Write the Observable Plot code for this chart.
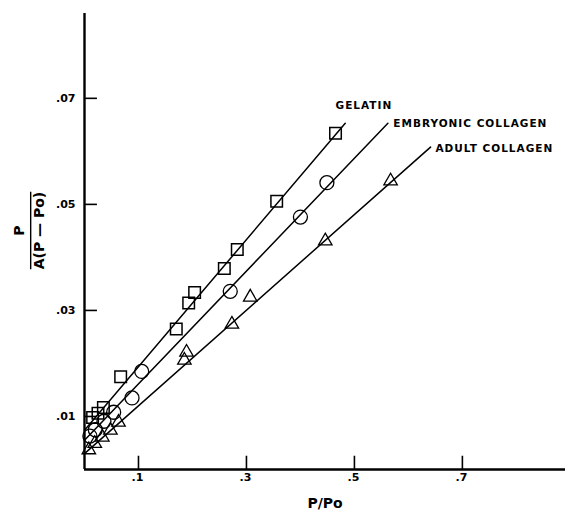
<!DOCTYPE html>
<html><head><meta charset="utf-8">
<script src="https://cdn.jsdelivr.net/npm/d3@7"></script>
<script src="https://cdn.jsdelivr.net/npm/@observablehq/plot@0.6"></script>
<style>body{margin:0;background:#fff}</style>
</head><body><div id="chart"></div>
<script>
// P/Po (x) and P/[A(P-Po)] (y)
const gelatinX = [0.015, 0.025, 0.035, 0.067, 0.170, 0.193, 0.204, 0.259, 0.283, 0.356, 0.465];
const gelatinY = [0.0098, 0.0106, 0.0117, 0.0175, 0.0265, 0.0314, 0.0334, 0.0379, 0.0415, 0.0506, 0.0634];
const embryonicX = [0.010, 0.020, 0.036, 0.054, 0.088, 0.106, 0.270, 0.400, 0.449];
const embryonicY = [0.0063, 0.0075, 0.0091, 0.0108, 0.0135, 0.0185, 0.0336, 0.0476, 0.0541];
const adultX = [0.008, 0.019, 0.033, 0.048, 0.063, 0.185, 0.189, 0.273, 0.307, 0.446, 0.567];
const adultY = [0.0037, 0.0049, 0.0061, 0.0074, 0.0089, 0.0206, 0.0221, 0.0274, 0.0325, 0.0431, 0.0544];
// fitted straight lines: endpoints
const gelatinFitX = [0, 0.483], gelatinFitY = [0.0074, 0.0653];
const embryonicFitX = [0, 0.562], embryonicFitY = [0.0055, 0.0653];
const adultFitX = [0, 0.641], adultFitY = [0.0030, 0.0608];
// series labels
const seriesNames = ["GELATIN", "EMBRYONIC COLLAGEN", "ADULT COLLAGEN"];
const labelX = [0.465, 0.572, 0.650];
const labelY = [0.0686, 0.0652, 0.0606];
// ticks
const xTicks = [0.1, 0.3, 0.5, 0.7];
const xTickLabels = [".1", ".3", ".5", ".7"];
const yTicks = [0.01, 0.03, 0.05, 0.07];
const yTickLabels = [".01", ".03", ".05", ".07"];

const pts = (xs, ys) => xs.map((x, i) => ({x, y: ys[i]}));
const gel = pts(gelatinX, gelatinY), emb = pts(embryonicX, embryonicY), adu = pts(adultX, adultY);
const labels = seriesNames.map((t, i) => ({t, x: labelX[i], y: labelY[i]}));

const chart = Plot.plot({
  width: 565, height: 514,
  marginLeft: 84, marginRight: 0, marginTop: 13, marginBottom: 45,
  x: {domain: [0, 0.891]},
  y: {domain: [0, 0.086]},
  style: {fontFamily: "DejaVu Sans", fontWeight: "bold", fontSize: "11px", color: "black", background: "white"},
  marks: [
    Plot.axisX({ticks: xTicks, tickSize: 0, tickPadding: 4, tickFormat: d => xTickLabels[xTicks.indexOf(d)], label: null, fontSize: 11, dx: -1}),
    Plot.axisY({ticks: yTicks, tickSize: 0, tickPadding: 9, tickFormat: d => yTickLabels[yTicks.indexOf(d)], label: null, fontSize: 11}),
    Plot.ruleX(xTicks, {y1: 0, y2: 0.0025, stroke: "black", strokeWidth: 1.6}),
    Plot.ruleY(yTicks, {x1: 0, x2: 0.024, stroke: "black", strokeWidth: 1.6}),
    Plot.ruleX([0], {stroke: "black", strokeWidth: 2.4}),
    Plot.ruleY([0], {stroke: "black", strokeWidth: 2.4}),
    Plot.line(pts(gelatinFitX, gelatinFitY), {x: "x", y: "y", stroke: "black", strokeWidth: 1.5}),
    Plot.line(pts(embryonicFitX, embryonicFitY), {x: "x", y: "y", stroke: "black", strokeWidth: 1.5}),
    Plot.line(pts(adultFitX, adultFitY), {x: "x", y: "y", stroke: "black", strokeWidth: 1.5}),
    Plot.dot(gel, {x: "x", y: "y", symbol: "square", r: 6.5, stroke: "black", strokeWidth: 1.5, fill: "none"}),
    Plot.dot(emb, {x: "x", y: "y", symbol: "circle", r: 7, stroke: "black", strokeWidth: 1.3, fill: "none"}),
    Plot.dot(adu, {x: "x", y: "y", symbol: "triangle", r: 5, stroke: "black", strokeWidth: 1.3, fill: "none"}),
    Plot.text(labels, {x: "x", y: "y", text: "t", textAnchor: "start", fontSize: 10.5, fill: "black", fontWeight: "bold"}),
    Plot.text(["P/Po"], {frameAnchor: "bottom", dy: 34, lineAnchor: "middle", textAnchor: "middle", fontSize: 14, fontWeight: "bold", fill: "black"}),
    Plot.text(["P"], {frameAnchor: "left", dx: -65, dy: -11, rotate: -90, textAnchor: "middle", lineAnchor: "middle", fontSize: 14, fontWeight: "bold", fill: "black"}),
    Plot.text(["A(P — Po)"], {frameAnchor: "left", dx: -45, dy: -11, rotate: -90, textAnchor: "middle", lineAnchor: "middle", fontSize: 14, fontWeight: "bold", fill: "black"})
  ]
});
d3.select(chart).selectAll("text").filter(function() { return this.textContent === "A(P — Po)"; })
  .style("text-decoration", "overline");
d3.select(chart).selectAll("text").filter(function() { return seriesNames.includes(this.textContent); })
  .style("letter-spacing", "1px");
document.getElementById("chart").append(chart);
</script></body></html>
